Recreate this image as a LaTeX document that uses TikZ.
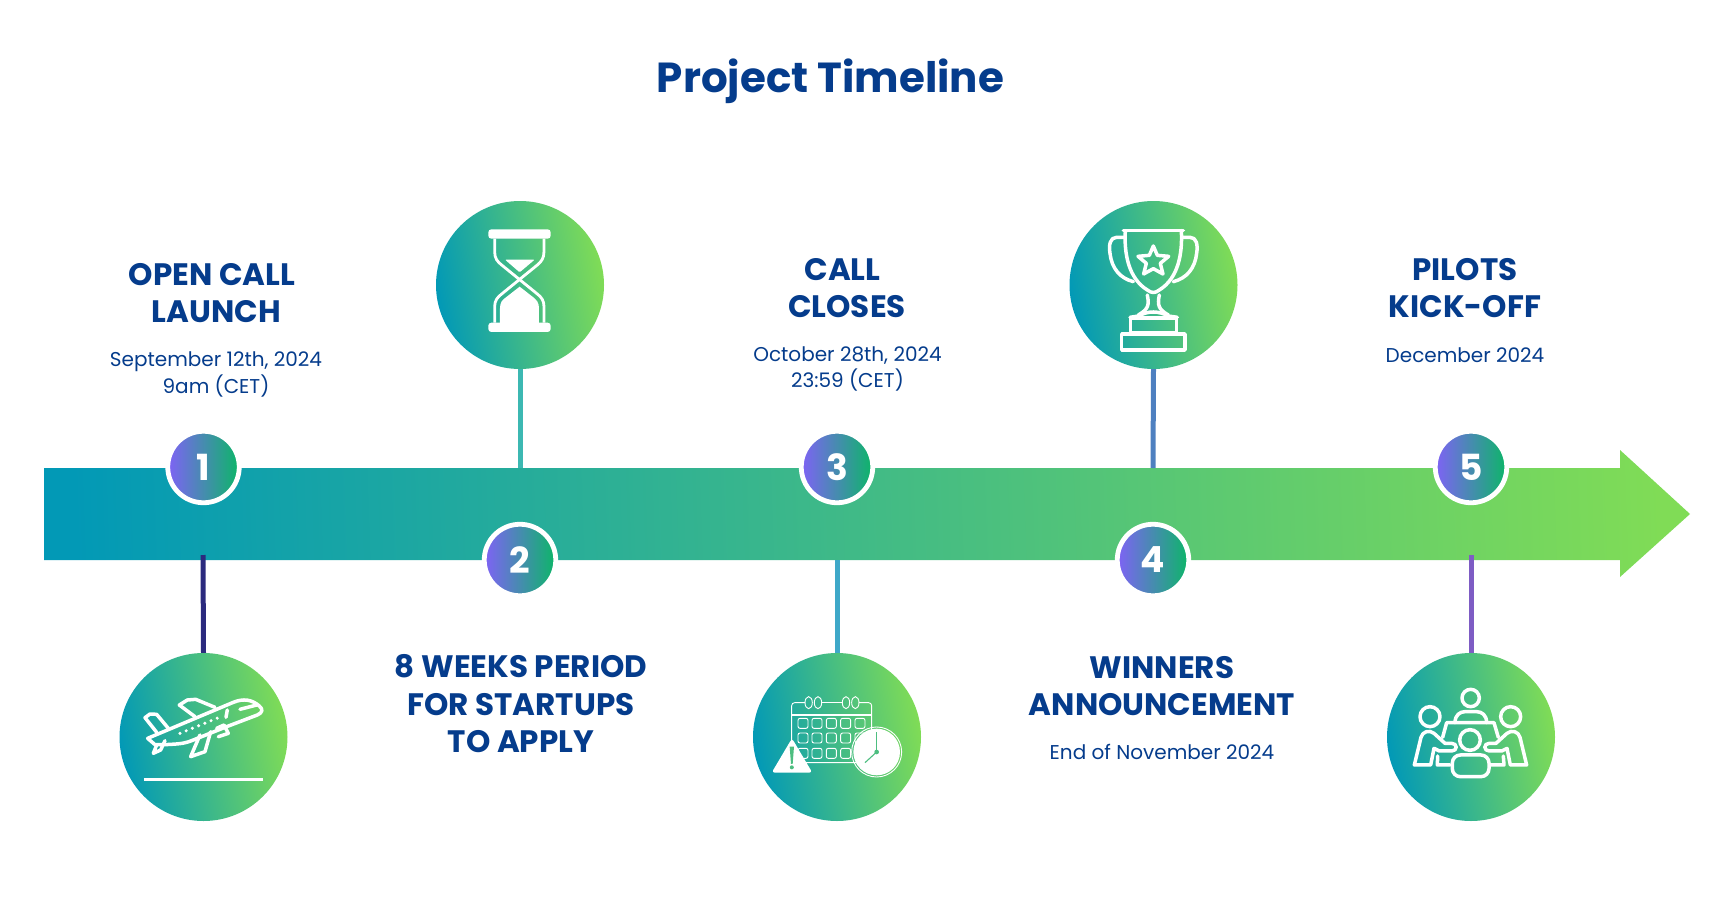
\documentclass[tikz,border=0pt]{standalone}
\usepackage{fontspec}
\setmainfont{Poppins}
\definecolor{navy}{HTML}{053C8C}
\definecolor{gA}{HTML}{0299B6}
\definecolor{gB}{HTML}{80DC56}
\definecolor{pA}{HTML}{7F62F5}
\definecolor{pB}{HTML}{0CB668}
\definecolor{handc}{HTML}{4DBE80}
\tikzset{
  bigc/.style={circle,inner sep=0pt,minimum size=168pt,left color=gA,right color=gB,shading angle=100},
  numc/.style={circle,inner sep=0pt,minimum size=71.5pt,left color=pA,right color=pB,shading angle=90,draw=white,line width=4.8pt,text=white,font=\fontsize{36}{36}\selectfont\bfseries},
  stem/.style={line width=5pt},
  head/.style={text=navy,align=center,font=\fontsize{31}{37.5}\selectfont\bfseries},
  sub/.style={text=navy,align=center,font=\fontsize{20}{26.4}\selectfont},
  titlet/.style={text=navy,font=\fontsize{42}{46}\selectfont\bfseries},
  ico/.style={draw=white,line width=3.5pt,line join=round,line cap=round},
  thin ico/.style={draw=white,line width=.9pt},
  zoomed/.style={shift={(#1)},x=.3333pt,y=-.3333pt}
}
\begin{document}
\begin{tikzpicture}[x=1pt,y=-1pt]
\useasboundingbox (0,0) rectangle (1714,905);
\node[titlet] (title) at (830.5,81) {Project Timeline};
\path[left color=gA,right color=gB,shading angle=92] (44,468)--(1620,468)--(1620,450)--(1690,514)--(1620,577)--(1620,560)--(44,560)--cycle;
% anchors of the stems' free ends
\coordinate (e1) at (203,555);
\coordinate (e2) at (520,468);
\coordinate (e3) at (837,560);
\coordinate (e4) at (1153,468);
\coordinate (e5) at (1471,555);
% big circles
\node[bigc] (b1) at (203.5,737) {};
\node[bigc] (b2) at (520,285) {};
\node[bigc] (b3) at (837,737) {};
\node[bigc] (b4) at (1153.5,285) {};
\node[bigc] (b5) at (1471,737) {};
% stems
\draw[stem,color={rgb,255:red,43;green,42;blue,126}] (e1) -- (b1.north);
\draw[stem,color={rgb,255:red,60;green,184;blue,178}] (b2.south) -- (e2);
\draw[stem,color={rgb,255:red,62;green,168;blue,200}] (e3) -- (b3.north);
\draw[stem,color={rgb,255:red,78;green,128;blue,192}] (b4.south) -- (e4);
\draw[stem,color={rgb,255:red,126;green,92;blue,196}] (e5) -- (b5.north);
% number circles
\node[numc] (n1) at (203.5,467) {1};
\node[numc] (n2) at (520,560) {2};
\node[numc] (n3) at (837,467) {3};
\node[numc] (n4) at (1153,560) {4};
\node[numc] (n5) at (1471,467) {5};
% texts
\node[head] (t1) at (216.5,293) {OPEN CALL\hspace*{9pt}\\LAUNCH};
\node[sub] (s1) at (216,374.5) {September 12th, 2024\\9am (CET)};
\node[head] (t2) at (521,704) {8 WEEKS PERIOD\\FOR STARTUPS\\TO APPLY};
\node[head] (t3) at (847,288) {CALL\hspace*{9pt}\\CLOSES};
\node[sub] (s3) at (847.5,369) {October 28th, 2024\\23:59 (CET)};
\node[head] (t4) at (1162,686) {WINNERS\\ANNOUNCEMENT};
\node[sub] (s4) at (1162,752) {End of November 2024};
\node[head] (t5) at (1465,288) {PILOTS\\KICK-OFF};
\node[sub] (s5) at (1465,355) {December 2024};
% plane
\begin{scope}[zoomed={100,620}]
\draw[ico] (143,355) -- (400,247) .. controls (430,235) and (455,238) .. (478,258) .. controls (490,268) and (488,278) .. (472,285) -- (380,320) -- (275,362) .. controls (250,372) and (230,372) .. (195,374) -- (165,374) -- cycle;
\draw[ico] (345,262) -- (287,238) -- (262,240) -- (238,255) -- (285,290);
\draw[ico] (205,325) -- (170,283) -- (150,282) -- (135,293) -- (170,337);
\draw[ico] (300,345) -- (272,410) -- (315,395) -- (332,335);
\draw[ico] (350,325) -- (372,315) -- (385,340) -- (355,350);
\draw[ico] (170,375) -- (160,400) -- (182,390) -- (195,362);
\draw[draw=white,line width=3.4pt,line cap=round,dash pattern=on 0pt off 6.7pt] (240,340) -- (358,292);
\draw[ico] (382,270) -- (378,292);
\draw[ico] (420,268) -- (470,255);
\draw[draw=white,line width=3.6pt] (132,478) -- (489,478);
\end{scope}
% hourglass
\begin{scope}[zoomed={420,180}]
\fill[white,rounded corners=3pt] (205,148) rectangle (392,176);
\fill[white,rounded corners=3pt] (205,428) rectangle (392,456);
\draw[ico,line width=2.8pt,line cap=butt] (224,176) -- (224,215) .. controls (224,235) and (232,245) .. (245,255) -- (352,342) .. controls (365,352) and (372,362) .. (372,380) -- (372,428);
\draw[ico,line width=2.8pt,line cap=butt] (372,176) -- (372,215) .. controls (372,235) and (364,245) .. (352,255) -- (245,342) .. controls (232,352) and (224,362) .. (224,380) -- (224,428);
\fill[white,rounded corners=1pt] (255,239) -- (344,239) -- (299,277) -- cycle;
\fill[white] (240,430) -- (240,385) .. controls (240,368) and (246,360) .. (258,352) -- (299,320) -- (340,352) .. controls (350,360) and (357,368) .. (357,385) -- (357,430) -- cycle;
\end{scope}
% calendar
\begin{scope}[zoomed={730,640}]
\draw[thin ico,rounded corners=3pt] (225,188) -- (185,188) -- (185,368) -- (425,368) -- (425,188) -- (387,188);
\draw[thin ico] (275,188) -- (337,188);
\draw[draw=white,line width=1.2pt] (185,225) -- (425,225);
\foreach \cx in {236,264,348,376} \draw[thin ico] (\cx,188) ellipse [x radius=11,y radius=18];
\foreach \cx in {219,261,304,347,390} \foreach \cy in {250,294,340}
  \draw[thin ico,rounded corners=2pt] (\cx-15,\cy-15) rectangle (\cx+15,\cy+15);
\fill[white,rounded corners=3pt] (186,295) -- (247,398) -- (125,398) -- cycle;
\fill[handc] (179,320) -- (192,320) -- (188,372) -- (183,372) -- cycle;
\fill[handc] (185.5,382) circle [radius=6];
\draw[thin ico] (440,336) circle [radius=75];
\fill[white] (440,336) circle [radius=70];
\draw[handc,line width=1.1pt] (440,336) -- (440,275);
\draw[handc,line width=1.1pt] (440,336) -- (405,368);
\fill[handc] (440,336) circle [radius=7];
\end{scope}
% trophy
\begin{scope}[zoomed={1060,190}]
\draw[ico] (190,122) -- (370,122);
\draw[ico] (196,122) .. controls (192,190) and (205,265) .. (262,300) .. controls (275,310) and (285,310) .. (298,300) .. controls (355,265) and (368,190) .. (364,122);
\draw[ico] (192,142) -- (170,142) .. controls (150,142) and (146,165) .. (150,190) .. controls (155,235) and (180,265) .. (220,275);
\draw[ico] (368,142) -- (390,142) .. controls (410,142) and (414,165) .. (410,190) .. controls (405,235) and (380,265) .. (340,275);
\draw[ico] (262,315) .. controls (268,345) and (265,358) .. (235,375);
\draw[ico] (298,315) .. controls (292,345) and (295,358) .. (325,375);
\draw[ico] (210,382) -- (235,378) .. controls (265,362) and (295,362) .. (325,378) -- (352,382);
\draw[ico] (212,384) rectangle (350,428);
\draw[ico] (185,432) rectangle (375,480);
\draw[ico] (280,168) -- (292,196) -- (326,199) -- (301,220) -- (309,252) -- (280,236) -- (251,252) -- (259,220) -- (234,199) -- (268,196) -- cycle;
\end{scope}
% meeting
\begin{scope}[zoomed={1370,650}]
\draw[ico] (302,144) circle [radius=26];
\draw[ico] (180,200) circle [radius=30];
\draw[ico] (422,200) circle [radius=30];
\draw[ico] (300,270) circle [radius=31];
\draw[ico] (255,218) .. controls (255,195) and (270,185) .. (285,185) -- (320,185) .. controls (335,185) and (350,195) .. (350,218);
\draw[ico] (218,262) -- (230,218) -- (372,218) -- (385,262);
\draw[ico] (203,318) -- (202,345) -- (240,345);
\draw[ico] (400,318) -- (402,345) -- (362,345);
\draw[ico,rounded corners=8pt] (247,315) rectangle (357,380);
\draw[ico] (133,345) -- (153,262) .. controls (157,245) and (178,238) .. (192,250) -- (225,280) -- (245,280) .. controls (263,280) and (263,303) .. (245,303) -- (208,303) -- (192,295) -- (182,345) -- cycle;
\draw[ico] (470,345) -- (450,262) .. controls (446,245) and (425,238) .. (411,250) -- (378,280) -- (358,280) .. controls (340,280) and (340,303) .. (358,303) -- (395,303) -- (411,295) -- (421,345) -- cycle;
\end{scope}
\end{tikzpicture}
\end{document}
